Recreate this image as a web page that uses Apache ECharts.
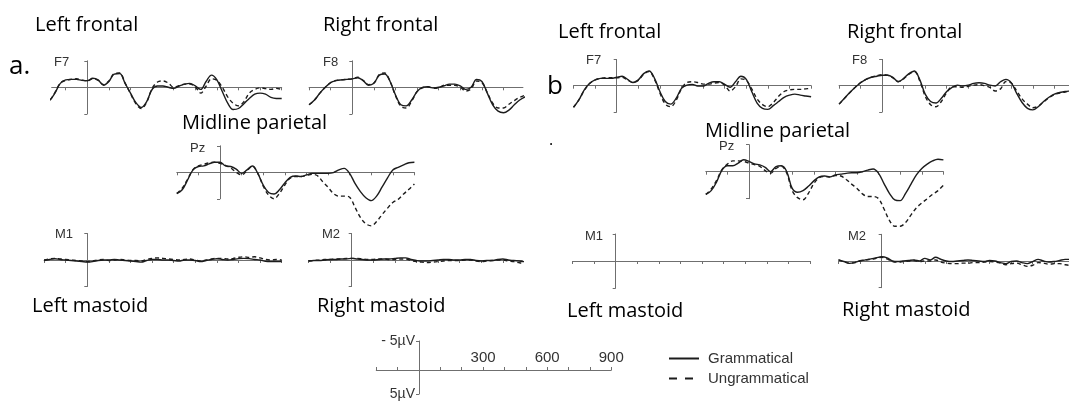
<!DOCTYPE html>
<html><head><meta charset="utf-8">
<script src="https://cdn.jsdelivr.net/npm/echarts@6/dist/echarts.min.js"></script>
<style>html,body{margin:0;padding:0;background:#fff}#c{width:1069px;height:401px}</style>
</head><body><div id="c"></div>
<script>
// ---- data (ms, µV; negative plotted up) ----
const TIMES = [-200,-175,-150,-125,-100,-75,-50,-25, 0,25,50,75,100,125,150,175, 200,225,250,275,300,325,350,375, 400,425,450,475,500,525,550,575, 600,625,650,675,700,725,750,775, 800,825,850,875,900];
const AXIS_TICKS = [-200,-100,0,100,200,300,400,500,600,700,800,900];
const SCALE_TICK_LABELS = [300,600,900];
const SCALE_UV = [-5,5];
const SERIES_NAMES = ['Grammatical','Ungrammatical'];

const aF7_gram = [3.0,2.5,1.1,-0.75,-1.4,-1.5,-1.5,-1.3, -1.25,-1.7,-1.4,-0.4,-1.1,-2.5,-2.6,-0.75, 1.1,2.9,3.8,2.7,0.4,-0.25,-0.25,0, 0.2,-0.25,-0.6,-0.75,-0.25,0.4,-1.1,-2.3, -1.4,0.8,3.0,4.2,4.0,3.1,2.1,1.3, 1.1,1.3,1.9,2.1,2.1];
const aF7_ungram = [3.0,2.5,1.0,-0.8,-1.3,-1.5,-1.6,-1.4, -1.2,-1.6,-1.3,-0.5,-1.2,-2.6,-2.7,-0.8, 1.2,3.1,4.0,2.8,0.2,-1.0,-1.2,-0.8, 0,-0.3,-0.6,-0.6,-0.1,1.1,-0.2,-1.6, -1.3,0,1.8,3.0,3.5,2.7,1.1,0.4, 0.1,0.25,0.4,0.2,0.4];
const aF8_gram = [3.3,2.4,1.1,0,-0.9,-1.25,-1.4,-1.5, -1.6,-1.8,-1.25,-0.4,-0.75,-2.3,-2.5,-1.1, 1.45,3.3,3.5,2.4,0.8,0,-0.1,0.1, 0,-0.3,-0.6,-0.6,-0.25,0.4,0,-1.5, -1.1,1.1,3.3,4.5,4.8,4.3,3.3,2.4, 1.8,1.5,1.3,1.2,1.2];
const aF8_ungram = [3.3,2.4,1.1,0,-0.9,-1.3,-1.4,-1.5, -1.6,-1.9,-1.3,-0.5,-0.8,-2.4,-2.7,-1.1, 1.6,3.6,3.9,2.6,0.8,0.1,-0.1,0.2, 0.1,-0.4,-0.4,-0.4,0,0.7,0.3,-1.2, -0.9,1.0,3.0,3.9,3.9,3.2,2.5,1.9, 1.5,1.3,1.2,1.1,1.1];
const aPz_gram = [4.0,3.3,1.45,-0.45,-1.1,-1.2,-1.6,-1.9, -1.9,-1.2,-1.1,-0.6,0.2,-0.45,-1.2,0.2, 2.4,3.8,4.1,3.3,2.0,0.95,0.7,0.8, 0.5,0.2,0.2,0.2,0.2,0.05,-0.45,-0.75, 0.2,2.1,3.65,4.8,5.35,4.5,2.8,1.1, -0.45,-0.95,-1.4,-1.8,-1.9];
const aPz_ungram = [4.0,3.0,1.3,-0.5,-1.2,-1.5,-1.8,-1.9, -1.7,-1.3,-0.8,0,0.5,-0.3,-1.2,0.2, 2.6,4.3,5.0,4.0,2.4,1.1,0.8,0.8, 0.6,0.4,0.6,1.75,2.8,4.0,4.5,4.5, 4.7,6.6,8.5,9.7,10.1,9.3,8.0,6.8, 5.7,5.1,4.1,3.2,2.2];
const aM1_gram = [0.1,-0.1,-0.25,-0.1,0,0.1,0.2,0.3, 0.4,0.3,0.1,0,0,-0.1,0,0.1, 0.2,0.3,0.4,0.1,-0.1,-0.1,0,0, 0.1,0.2,0,0,0.1,0.3,0.1,-0.1, -0.25,-0.1,0,-0.1,-0.25,-0.3,-0.25,-0.1, 0,0.25,0.3,0.3,0.3];
const aM1_ungram = [0,-0.2,-0.3,-0.2,-0.1,0,0.1,0.2, 0.3,0.2,0,-0.1,0.1,0,-0.1,0, 0.1,0.1,0.2,-0.1,-0.3,-0.4,-0.3,-0.2, -0.1,0,-0.1,-0.2,0,0.2,0,-0.2, -0.3,-0.3,-0.2,-0.3,-0.5,-0.6,-0.5,-0.6, -0.4,-0.1,0,-0.1,0];
const aM2_gram = [0.2,0.1,0.1,0,-0.1,-0.1,-0.2,-0.2, -0.3,-0.2,-0.1,0,0,-0.1,-0.2,-0.2, -0.3,-0.4,-0.4,-0.1,0.1,0.2,0.2,0.1, 0,-0.1,-0.1,0,0,-0.1,-0.1,0.1, 0.2,0.1,0.1,-0.1,-0.2,0,0.1,0.2, 0.3,0.3,0.3,0.3,0.3];
const aM2_ungram = [0.2,0.1,0,-0.1,-0.1,-0.2,-0.2,-0.3, -0.3,-0.3,-0.2,-0.1,-0.1,-0.2,-0.2,-0.1, -0.1,-0.2,-0.2,0.1,0.3,0.4,0.5,0.4, 0.3,0.2,0.1,0.1,0.1,0,0,0.2, 0.3,0.2,0.1,0,0,0.2,0.3,0.5, 0.6,0.6,0.6,0.6,0.6];
const bF7_gram = [4.1,2.7,0.8,-0.45,-1.1,-1.4,-1.4,-1.4, -1.6,-1.8,-1.2,-0.6,-1.1,-2.3,-2.8,-1.4, 1.1,3.0,3.5,2.4,0.5,-0.1,-0.25,0.05, 0.05,-0.45,-0.75,-0.75,-0.25,0.3,-0.75,-1.8, -1.2,1.1,3.3,4.3,4.5,3.8,3.0,2.2, 1.8,1.6,1.8,1.95,2.1];
const bF7_ungram = [4.1,2.7,0.9,-0.4,-1.1,-1.4,-1.5,-1.5, -1.5,-1.6,-1.1,-0.6,-1.0,-2.2,-2.7,-1.2, 1.4,3.5,4.0,2.8,0.6,-0.6,-0.75,-0.6, -0.3,-0.3,-0.5,-0.6,-0.1,1.0,0.2,-1.3, -1.0,0.6,2.5,3.6,4.0,3.2,2.0,1.1, 0.8,0.7,0.7,0.6,0.5];
const bF8_gram = [3.5,2.4,1.3,0.3,-0.55,-1.2,-1.6,-1.8, -2.0,-2.0,-1.6,-0.75,-1.4,-2.3,-2.8,-1.1, 1.6,3.0,3.3,2.4,1.1,0.3,-0.1,0.05, -0.1,-0.45,-0.55,-0.45,-0.1,0.05,-0.75,-1.2, -0.55,1.45,3.2,4.3,4.6,4.0,3.0,2.2, 1.6,1.3,1.1,1.0,0.9];
const bF8_ungram = [3.5,2.4,1.3,0.3,-0.6,-1.2,-1.6,-1.9, -2.1,-2.0,-1.5,-0.8,-1.3,-2.2,-2.7,-0.9, 2.0,3.6,4.0,3.0,1.3,0.2,0.2,0.3, 0.1,-0.1,-0.2,0,0.3,1.0,0.6,-0.8, -0.5,1.0,2.5,3.5,4.2,3.9,3.1,2.3, 1.7,1.4,1.2,1.0,0.9];
const bPz_gram = [4.2,3.5,1.9,-0.3,-1.1,-1.1,-1.6,-2.2, -1.9,-1.45,-1.25,-0.8,0,-0.95,-1.1,0, 3.1,3.8,3.5,2.7,1.7,0.95,0.8,0.95, 0.6,0.45,0.3,0.2,0.2,0,-0.3,-0.5, 0.3,2.2,4.0,5.2,5.35,4.0,2.3,0.6, -0.6,-1.4,-2.0,-2.3,-2.2];
const bPz_ungram = [4.2,3.2,1.6,-0.4,-1.4,-2.0,-2.0,-1.9, -1.6,-1.3,-1.0,-0.2,0.3,-0.6,-1.0,0.3, 3.5,4.8,5.2,4.0,2.2,1.1,0.9,1.0, 0.7,0.8,1.45,2.3,3.1,4.1,4.6,4.6, 5.0,6.9,9.0,10.1,10.1,9.4,8.0,6.7, 5.8,5.0,4.2,3.5,2.5];
const bM2_gram = [-0.2,0.1,0.45,0.3,-0.05,-0.2,-0.4,-0.6, -0.8,-0.6,0,0.1,0,-0.1,-0.2,0, -0.5,-0.2,-0.7,-0.3,0,0.1,0,-0.1, -0.2,-0.1,0,0.1,-0.1,0,0.3,0.5, 0.1,0,0.3,0.5,0.1,-0.3,0,0.2, 0.1,-0.1,-0.3,-0.3,-0.3];
const bM2_ungram = [-0.2,0.1,0.4,0.3,0,-0.2,-0.3,-0.5, -0.7,-0.4,0.1,0.2,0.1,0,-0.1,0.1, 0,0,-0.2,0.2,0.4,0.5,0.5,0.4, 0.4,0.3,0.3,0.2,0.1,0.2,0.4,0.7, 0.5,0.4,0.7,1.0,0.8,0.3,0.4,0.6, 0.5,0.5,0.7,0.8,0.8];

// ---- layout ----
const K = 0.216;           // px per ms
const AX = '#6f6f6f';
const INK = '#1c1c1c';
const panels = [
  {label:'F7', zx:87.3,  y0:87.3,  tmin:-165, tmax:900, half:26.5, g:aF7_gram, u:aF7_ungram, lx:54,  ly:62},
  {label:'F8', zx:352.3, y0:87.3,  tmin:-200, tmax:790, half:26.5, g:aF8_gram, u:aF8_ungram, lx:323, ly:62},
  {label:'Pz', zx:220,   y0:172.3, tmin:-200, tmax:900, half:26.5, g:aPz_gram, u:aPz_ungram, lx:190, ly:148, free:true},
  {label:'M1', zx:87.3,  y0:260,   tmin:-200, tmax:900, half:26.5, g:aM1_gram, u:aM1_ungram, lx:55,  ly:234},
  {label:'M2', zx:351.7, y0:260,   tmin:-200, tmax:790, half:26.5, g:aM2_gram, u:aM2_ungram, lx:322, ly:234},
  {label:'F7', zx:616.7, y0:85.7,  tmin:-200, tmax:900, half:26.3, g:bF7_gram, u:bF7_ungram, lx:586, ly:60},
  {label:'F8', zx:882.3, y0:85.7,  tmin:-200, tmax:868, half:26.3, g:bF8_gram, u:bF8_ungram, lx:852, ly:60},
  {label:'Pz', zx:749,   y0:171.7, tmin:-200, tmax:900, half:27,   g:bPz_gram, u:bPz_ungram, lx:719, ly:146, free:true},
  {label:'M1', zx:615.7, y0:261,   tmin:-200, tmax:900, half:27,   g:null, u:null, lx:585, ly:236},
  {label:'M2', zx:881.7, y0:261,   tmin:-200, tmax:868, half:26.7, g:bM2_gram, u:bM2_ungram, lx:848, ly:236}
];

const grid = [], xAxis = [], yAxis = [], series = [];
const lineAx = {color: AX, width: 1};
const hiddenAxis = (gi) => ({gridIndex:gi, type:'value', min:0, max:1, show:false});
panels.forEach((p, i) => {
  grid.push({left: p.zx + p.tmin*K, top: p.y0 - p.half, width: (p.tmax - p.tmin)*K, height: 2*p.half});
  xAxis.push({gridIndex:i, type:'value', min:p.tmin, max:p.tmax,
    axisLine:{onZero:true, lineStyle:lineAx},
    axisTick:{show:true, customValues: AXIS_TICKS.filter(t => t >= p.tmin && t <= p.tmax), length:3, lineStyle:lineAx},
    axisLabel:{show:false}, splitLine:{show:false}});
  yAxis.push({gridIndex:i, type:'value', min:-5, max:5, inverse:true,
    axisLine:{show:true, onZero:true, lineStyle:lineAx},
    axisTick:{show:true, customValues:[-5,5], length:3, lineStyle:lineAx},
    axisLabel:{show:false}, splitLine:{show:false}});
  if (p.g) {
    [[p.g, 'solid'], [p.u, [4,3]]].forEach(([vals, dash], k) => {
      series.push({type:'line', name: SERIES_NAMES[k], xAxisIndex:i, yAxisIndex:i,
        data: TIMES.map((t, j) => [t, vals[j]]),
        smooth:0.35, symbol:'none', clip: !p.free, silent:true,
        itemStyle:{color:INK}, lineStyle:{color:INK, width:1.4, type:dash}});
    });
  }
});

// scale: time axis (grid whose top edge is the zero line)
const SK = 0.2136;
const sx = panels.length;
grid.push({left: 419 - 200*SK, top: 370, width: 1100*SK, height: 28});
xAxis.push({gridIndex:sx, type:'value', min:-200, max:900, position:'top',
  axisLine:{onZero:false, lineStyle:lineAx},
  axisTick:{show:true, customValues: AXIS_TICKS, length:3, lineStyle:lineAx},
  axisLabel:{show:true, customValues: SCALE_TICK_LABELS, margin:5, color:'#333', fontSize:15, fontFamily:'Liberation Sans'},
  splitLine:{show:false}});
yAxis.push(hiddenAxis(sx));
// scale: voltage axis (grid whose left edge is time 0)
const sy = sx + 1;
grid.push({left: 419, top: 341, width: 190, height: 58});
xAxis.push(hiddenAxis(sy));
yAxis.push({gridIndex:sy, type:'value', min:-5, max:5, inverse:true, position:'left',
  axisLine:{show:true, onZero:false, lineStyle:lineAx},
  axisTick:{show:true, customValues: SCALE_UV, length:3, lineStyle:lineAx},
  axisLabel:{show:true, customValues: SCALE_UV, margin:4, color:'#333', fontSize:14, fontFamily:'Liberation Sans',
    formatter: v => (v < 0 ? '- ' + Math.abs(v) : String(v)) + 'µV'},
  splitLine:{show:false}});

const TF = '20px "Open Sans"';
const txt = (text, x, y, font, fill) => ({type:'text', x, y, silent:true,
  style:{text, font, fill: fill || '#000', verticalAlign:'middle', align:'left'}});
const graphic = [
  txt('Left frontal', 35, 25, TF), txt('Right frontal', 323, 25, TF),
  txt('Midline parietal', 182, 123, TF),
  txt('Left mastoid', 32, 306, TF), txt('Right mastoid', 317, 306, TF),
  txt('Left frontal', 558, 32, TF), txt('Right frontal', 847, 32, TF),
  txt('Midline parietal', 705, 131, TF),
  txt('Left mastoid', 567, 311, TF), txt('Right mastoid', 842, 310, TF),
  txt('a.', 9, 67, '26px "Open Sans"'), txt('b', 547, 87, '26px "Open Sans"'),
  txt('.', 549, 140, '16px "Open Sans"')
];
panels.forEach(p => graphic.push(txt(p.label, p.lx, p.ly, '13px "Liberation Sans"', '#333')));

const chart = echarts.init(document.getElementById('c'), null, {renderer:'canvas'});
chart.setOption({
  animation:false,
  backgroundColor:'#fff',
  grid, xAxis, yAxis, series, graphic,
  legend:{left:663, top:346, orient:'vertical', itemWidth:30, itemHeight:14, itemGap:5, selectedMode:false,
    itemStyle:{color:'rgba(0,0,0,0)', borderWidth:0, opacity:0},
    data:[{name:'Grammatical', lineStyle:{width:2, type:'solid', color:INK, opacity:1}},
          {name:'Ungrammatical', lineStyle:{width:2, type:[8,8], color:INK, opacity:1}}],
    textStyle:{fontSize:15, color:'#333', fontFamily:'Liberation Sans', padding:[0,0,0,4]}}
});
</script></body></html>
